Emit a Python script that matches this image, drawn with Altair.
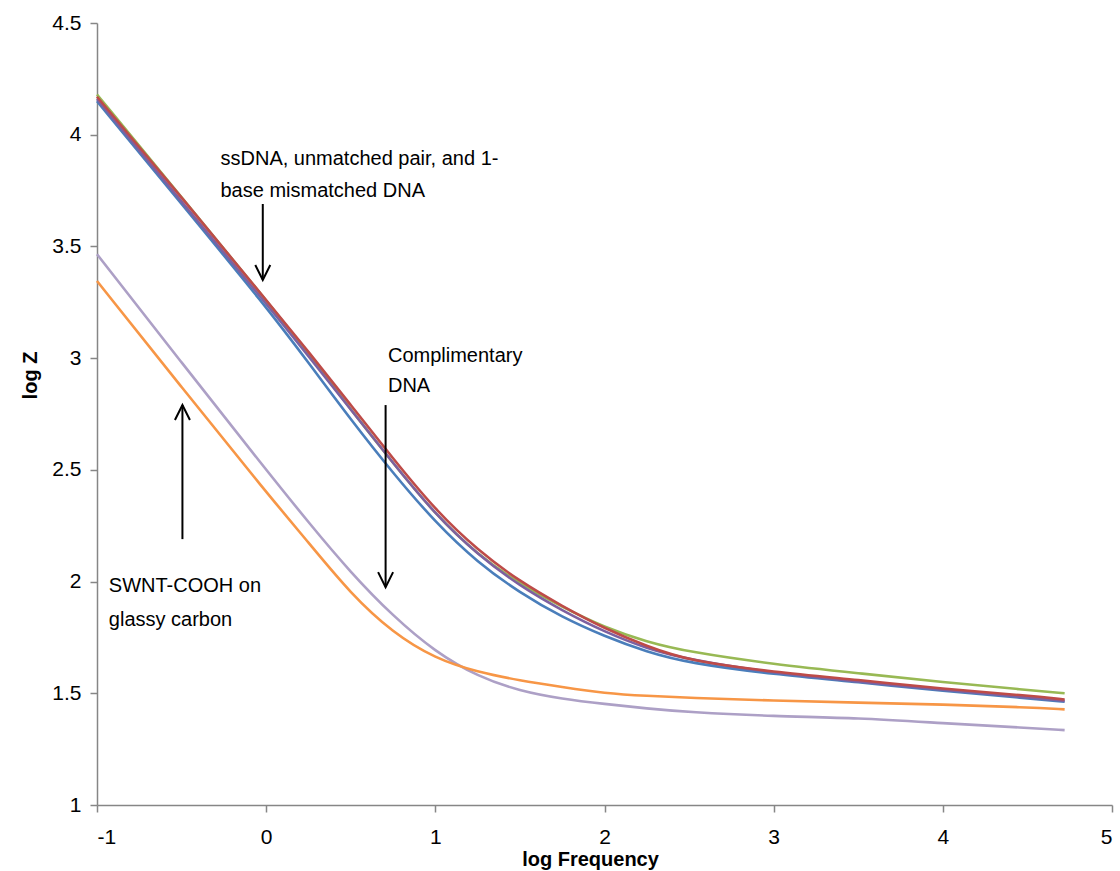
import altair as alt
import pandas as pd

# x grid (log Frequency)
log_freq = [-1, -0.5, 0, 0.25, 0.5, 0.75, 1.0, 1.25, 1.5, 1.75, 2.0, 2.25, 2.5, 3.0, 3.5, 4.0, 4.5, 4.72]

# log Z series
blue = [4.15, 3.69, 3.23, 2.98, 2.725, 2.485, 2.265, 2.085, 1.95, 1.84, 1.755, 1.685, 1.635, 1.585, 1.55, 1.51, 1.478, 1.462]
green = [4.18, 3.72, 3.26, 3.02, 2.77, 2.53, 2.30, 2.12, 1.99, 1.885, 1.795, 1.73, 1.685, 1.63, 1.59, 1.55, 1.515, 1.50]
purple = [4.16, 3.70, 3.245, 3.01, 2.77, 2.53, 2.30, 2.12, 1.98, 1.87, 1.775, 1.70, 1.65, 1.59, 1.553, 1.515, 1.482, 1.466]
red = [4.17, 3.72, 3.26, 3.03, 2.79, 2.55, 2.32, 2.14, 2.00, 1.89, 1.79, 1.71, 1.645, 1.595, 1.56, 1.52, 1.49, 1.472]
lavender = [3.465, 2.98, 2.50, 2.265, 2.04, 1.845, 1.685, 1.575, 1.51, 1.475, 1.452, 1.432, 1.415, 1.397, 1.39, 1.366, 1.345, 1.335]
orange = [3.345, 2.87, 2.40, 2.175, 1.945, 1.77, 1.655, 1.595, 1.557, 1.528, 1.50, 1.488, 1.48, 1.467, 1.458, 1.45, 1.437, 1.428]

series_names = ["blue", "green", "purple", "red", "lavender", "orange"]
series_values = [blue, green, purple, red, lavender, orange]
series_colors = ["#4A7EBB", "#98B954", "#7D60A0", "#BE4B48", "#ADA0C6", "#F79646"]

# annotations (data coordinates)
label_text = ["ssDNA, unmatched pair, and 1-", "base mismatched DNA",
              "Complimentary", "DNA",
              "SWNT-COOH on", "glassy carbon"]
label_x = [-0.27, -0.27, 0.72, 0.72, -0.93, -0.93]
label_y = [3.89, 3.75, 3.01, 2.875, 1.98, 1.83]

arrow_x = [-0.02, 0.706, -0.495]
arrow_y_from = [3.69, 2.79, 2.19]
arrow_y_to = [3.35, 1.975, 2.79]
arrow_dir = ["down", "down", "up"]

rows = []
for name, vals in zip(series_names, series_values):
    for i, (xv, yv) in enumerate(zip(log_freq, vals)):
        rows.append({"series": name, "x": xv, "y": yv, "order": i})
df = pd.DataFrame(rows)

xscale = alt.Scale(domain=[-1, 5], nice=False, zero=False)
yscale = alt.Scale(domain=[1, 4.5], nice=False, zero=False)

lines = alt.Chart(df).mark_line(strokeWidth=2.6, interpolate="basis").encode(
    x=alt.X("x:Q", scale=xscale,
            axis=alt.Axis(title="log Frequency", values=[-1, 0, 1, 2, 3, 4, 5],
                          labelExpr="'' + datum.value", titleX=493, titleY=54,
                          titleBaseline="middle", titleAlign="center")),
    y=alt.Y("y:Q", scale=yscale,
            axis=alt.Axis(title="log Z", values=[1, 1.5, 2, 2.5, 3, 3.5, 4, 4.5],
                          labelExpr="'' + datum.value", titleX=-67, titleY=352,
                          titleAngle=270, titleBaseline="middle", titleAlign="center")),
    color=alt.Color("series:N", scale=alt.Scale(domain=series_names, range=series_colors), legend=None),
    order="order:Q",
    detail="series:N",
)

ann_df = pd.DataFrame({"text": label_text, "x": label_x, "y": label_y})
texts = alt.Chart(ann_df).mark_text(align="left", baseline="middle", fontSize=20,
                                    font="Liberation Sans", color="#000000").encode(
    x=alt.X("x:Q", scale=xscale), y=alt.Y("y:Q", scale=yscale), text="text:N")

arr_df = pd.DataFrame({"x": arrow_x, "y1": arrow_y_from, "y2": arrow_y_to, "dir": arrow_dir})
shafts = alt.Chart(arr_df).mark_rule(strokeWidth=2, color="#000000").encode(
    x=alt.X("x:Q", scale=xscale), y=alt.Y("y1:Q", scale=yscale), y2="y2:Q")

heads_down = alt.Chart(arr_df).transform_filter("datum.dir == 'down'").mark_point(
    shape="M-0.5,-1L0,0L0.5,-1", filled=False, strokeWidth=2, size=900, color="#000000", opacity=1
).encode(x=alt.X("x:Q", scale=xscale), y=alt.Y("y2:Q", scale=yscale))

heads_up = alt.Chart(arr_df).transform_filter("datum.dir == 'up'").mark_point(
    shape="M-0.5,1L0,0L0.5,1", filled=False, strokeWidth=2, size=900, color="#000000", opacity=1
).encode(x=alt.X("x:Q", scale=xscale), y=alt.Y("y2:Q", scale=yscale))

chart = alt.layer(lines, shafts, heads_down, heads_up, texts).properties(
    width=1015, height=782,
    autosize=alt.AutoSizeParams(type="none"),
    padding={"left": 97, "top": 23, "right": 8, "bottom": 66},
).configure_view(stroke=None).configure_axis(
    grid=False,
    domainColor="#868686", domainWidth=1.5,
    tickColor="#868686", tickSize=7, tickWidth=1.5,
    labelColor="#000000", labelFont="Liberation Sans", labelFontSize=21,
    titleColor="#000000", titleFont="Liberation Sans", titleFontSize=20, titleFontWeight="bold",
).configure_axisX(labelPadding=14).configure_axisY(labelPadding=9)

chart.save("out.html", embed_options={"renderer": "svg", "actions": False})
